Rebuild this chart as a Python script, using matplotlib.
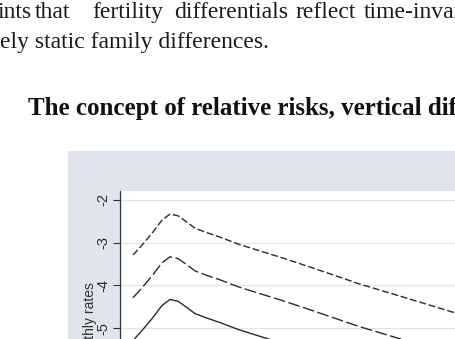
import matplotlib
matplotlib.use("Agg")
import matplotlib.pyplot as plt
from matplotlib.patches import Rectangle

W, H = 456, 339

# ---- data ----
x_vals = [1.3, 2.3, 3.3, 4.2, 5.0, 5.8, 6.7, 7.5, 8.5, 10.0, 11.8, 13.0,
          16.3, 19.0, 24.0, 28.0, 33.6, 36.0]
top_vals = [-3.29, -3.03, -2.75, -2.47, -2.33, -2.37, -2.52, -2.66, -2.75,
            -2.87, -3.03, -3.12, -3.36, -3.57, -3.97, -4.25, -4.65, -4.81]
mid_vals = [-4.29, -4.03, -3.75, -3.47, -3.33, -3.37, -3.52, -3.66, -3.75,
            -3.87, -4.03, -4.12, -4.36, -4.57, -4.97, -5.25, -5.65, -5.81]
bot_vals = [-5.29, -5.03, -4.75, -4.47, -4.33, -4.37, -4.52, -4.66, -4.75,
            -4.87, -5.03, -5.12, -5.36, -5.57, -5.97, -6.25, -6.65, -6.81]
y_ticks = [-2, -3, -4, -5]
y_ticklabels = ["-2", "-3", "-4", "-5"]
y_label = "Log monthly rates"

body_line1 = ["ints", "that", "fertility", "differentials", "reflect", "time-invariant"]
body_line2 = "ely static family differences."
title = "The concept of relative risks, vertical differences"


def fx(px):
    return px / W


def fy(py):
    return 1 - py / H


fig = plt.figure(figsize=(W / 100, H / 100), dpi=100)
fig.patch.set_facecolor("white")

# body text (justified first line, words placed individually)
serif = ["Liberation Serif", "DejaVu Serif"]
word_x = [-3, 35, 92, 174, 296, 364]
for w, xp in zip(body_line1, word_x):
    fig.text(fx(xp), fy(18), w, family=serif, fontsize=17,
             ha="left", va="baseline", color="#1a1a1a")
fig.text(fx(0), fy(48), body_line2, family=serif, fontsize=17,
         ha="left", va="baseline", color="#1a1a1a")

# bold title
fig.text(fx(28), fy(115), title, family=serif, fontsize=18,
         fontweight="bold", ha="left", va="baseline", color="#111111")

# graph region background (Stata-like)
bg = Rectangle((fx(68), 0), 1.0, fy(151), transform=fig.transFigure,
               facecolor="#dfe4ed", edgecolor="none", zorder=-10)
fig.add_artist(bg)

# plot area
ymax = -2 + 9 / 42.7
ymin = -7.0
bottom_px = 200 + (-2 - ymin) * 42.7
ax = fig.add_axes([fx(120), fy(bottom_px), fx(520) - fx(120), (bottom_px - 191) / H])
ax.set_zorder(1)
ax.set_facecolor("white")
ax.set_xlim(0, 40)
ax.set_ylim(ymin, ymax)

ax.set_yticks(y_ticks)
ax.set_yticklabels(y_ticklabels, rotation=90, va="center",
                   family=["Liberation Sans", "DejaVu Sans"], fontsize=10.5, color="#2e2e2e")
ax.tick_params(axis="y", length=5, width=0.8, color="#333333", pad=2)
ax.set_xticks([])
ax.grid(axis="y", color="#e4e4e4", linewidth=0.9)
ax.set_axisbelow(True)
for s in ["top", "right", "bottom"]:
    ax.spines[s].set_visible(False)
ax.spines["left"].set_color("#333333")
ax.spines["left"].set_linewidth(0.9)

lc = "#2b2b2b"
l1, = ax.plot(x_vals, top_vals, color=lc, linewidth=1.0)
l1.set_dashes([5, 2])
l2, = ax.plot(x_vals, mid_vals, color=lc, linewidth=1.0)
l2.set_dashes([8.5, 2.5])
ax.plot(x_vals, bot_vals, color=lc, linewidth=1.0)

fig.text(fx(90), fy(282), y_label, rotation=90, ha="center", va="top",
         family=["Liberation Sans", "DejaVu Sans"], fontsize=10, color="#2e2e2e",
         zorder=2)

fig.savefig("out.png", dpi=100)
